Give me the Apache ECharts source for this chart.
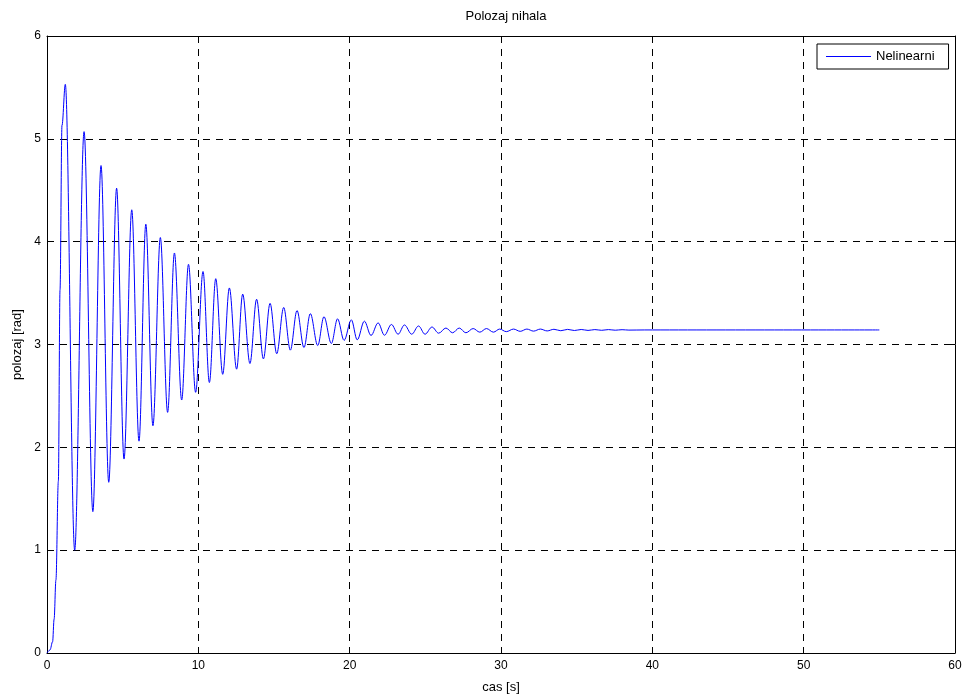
<!DOCTYPE html>
<html>
<head>
<meta charset="utf-8">
<title>Polozaj nihala</title>
<script src="https://cdn.jsdelivr.net/npm/echarts@6/dist/echarts.min.js"></script>
<style>
  html, body { margin: 0; padding: 0; background: #fff; }
  #main { width: 967px; height: 699px; }
</style>
</head>
<body>
<div id="main"></div>
<script>
// cas [s] (rise, then peaks / troughs)
var casPts = [
  0, 0.2, 0.37, 0.47, 0.59, 0.75, 0.86, 0.99,
  1.21, 1.83, 2.45, 3.03, 3.57, 4.08, 4.6, 5.09, 5.6, 6.08,
  6.53, 7.0, 7.49, 7.97, 8.42, 8.9, 9.35, 9.82, 10.31, 10.73,
  11.15, 11.61, 12.05, 12.53, 12.93, 13.41, 13.85, 14.3, 14.74, 15.18,
  15.64, 16.08, 16.52, 16.98, 17.4, 17.89, 18.3, 18.79, 19.2, 19.63,
  20.11, 20.5, 20.97, 21.41, 21.88, 22.3, 22.76, 23.2, 23.62, 24.1,
  24.55, 24.98, 25.44, 25.88, 26.36, 26.8, 27.24, 27.68, 28.16, 28.6,
  29.04, 29.5, 29.91, 30.35, 30.83, 31.27, 31.71, 32.15, 32.6, 33.05,
  33.5, 33.95, 34.4, 34.85, 35.3, 35.75, 36.2, 36.65, 37.1, 37.55,
  38.0, 38.45, 39.5, 55
];
// polozaj [rad]
var polozajPts = [
  0, 0.03, 0.11, 0.33, 0.71, 1.67, 3.53, 5.13,
  5.53, 1.0, 5.07, 1.375, 4.74, 1.66, 4.52, 1.886, 4.31, 2.06,
  4.17, 2.21, 4.04, 2.34, 3.89, 2.46, 3.78, 2.535, 3.71, 2.63,
  3.64, 2.71, 3.55, 2.76, 3.49, 2.815, 3.44, 2.86, 3.40, 2.91,
  3.36, 2.945, 3.33, 2.97, 3.30, 2.99, 3.27, 3.01, 3.25, 3.04,
  3.24, 3.045, 3.227, 3.088, 3.21, 3.09, 3.195, 3.10, 3.19, 3.10,
  3.18, 3.10, 3.17, 3.11, 3.16, 3.114, 3.16, 3.114, 3.155, 3.12,
  3.155, 3.12, 3.15, 3.125, 3.15, 3.128, 3.15, 3.13, 3.15, 3.132,
  3.148, 3.134, 3.147, 3.136, 3.146, 3.137, 3.145, 3.138, 3.145, 3.139,
  3.144, 3.14, 3.1416, 3.1416
];
var xTicks = [0, 10, 20, 30, 40, 50, 60];
var yTicks = [0, 1, 2, 3, 4, 5, 6];

var chart = echarts.init(document.getElementById('main'));

var font = '"Liberation Sans", Arial, Helvetica, sans-serif';
var gridDash = { type: [7, 6], color: '#000', width: 1 };

function frameAxis(pos, ticks, extra) {
  var ax = {
    type: 'value',
    position: pos,
    min: ticks[0],
    max: ticks[ticks.length - 1],
    interval: ticks[1] - ticks[0],
    axisLine: { show: true, onZero: false, lineStyle: { color: '#000', width: 1 } },
    axisTick: { show: true, inside: true, length: 5, lineStyle: { color: '#000' } },
    axisLabel: { show: false },
    splitLine: { show: false }
  };
  return Object.assign(ax, extra || {});
}

var data = casPts.map(function (t, i) { return [t, polozajPts[i]]; });

var option = {
  backgroundColor: '#fff',
  animation: false,
  textStyle: { fontFamily: font },
  title: {
    text: 'Polozaj nihala',
    left: 501,
    top: 5,
    textAlign: 'center',
    textStyle: { fontFamily: font, fontSize: 13, fontWeight: 'normal', color: '#000' }
  },
  legend: {
    left: 817,
    top: 44,
    icon: 'rect',
    itemWidth: 45,
    itemHeight: 1,
    itemGap: 6,
    padding: [6, 14, 6, 9],
    borderColor: '#000',
    borderWidth: 1,
    borderRadius: 0,
    backgroundColor: '#fff',
    textStyle: { fontFamily: font, fontSize: 13, color: '#000' },
    data: ['Nelinearni']
  },
  grid: { left: 47, right: 12, top: 36, bottom: 45, containLabel: false },
  xAxis: [
    frameAxis('bottom', xTicks, {
      name: 'cas [s]',
      nameLocation: 'middle',
      nameGap: 28,
      nameTextStyle: { fontFamily: font, fontSize: 13, color: '#000' },
      axisLabel: { show: true, margin: 7, fontFamily: font, fontSize: 12, color: '#000' },
      splitLine: { show: true, lineStyle: gridDash }
    }),
    frameAxis('top', xTicks)
  ],
  yAxis: [
    frameAxis('left', yTicks, {
      name: 'polozaj [rad]',
      nameLocation: 'middle',
      nameGap: 22,
      nameRotate: 90,
      nameTextStyle: { fontFamily: font, fontSize: 13, color: '#000' },
      axisLabel: { show: true, margin: 6, fontFamily: font, fontSize: 12, color: '#000' },
      splitLine: { show: true, lineStyle: gridDash }
    }),
    frameAxis('right', yTicks)
  ],
  series: [{
    name: 'Nelinearni',
    type: 'line',
    xAxisIndex: 0,
    yAxisIndex: 0,
    data: data,
    symbol: 'none',
    smooth: 0.35,
    smoothMonotone: 'x',
    lineStyle: { color: '#0000ff', width: 1 },
    itemStyle: { color: '#0000ff' }
  }]
};

chart.setOption(option);
</script>
</body>
</html>
